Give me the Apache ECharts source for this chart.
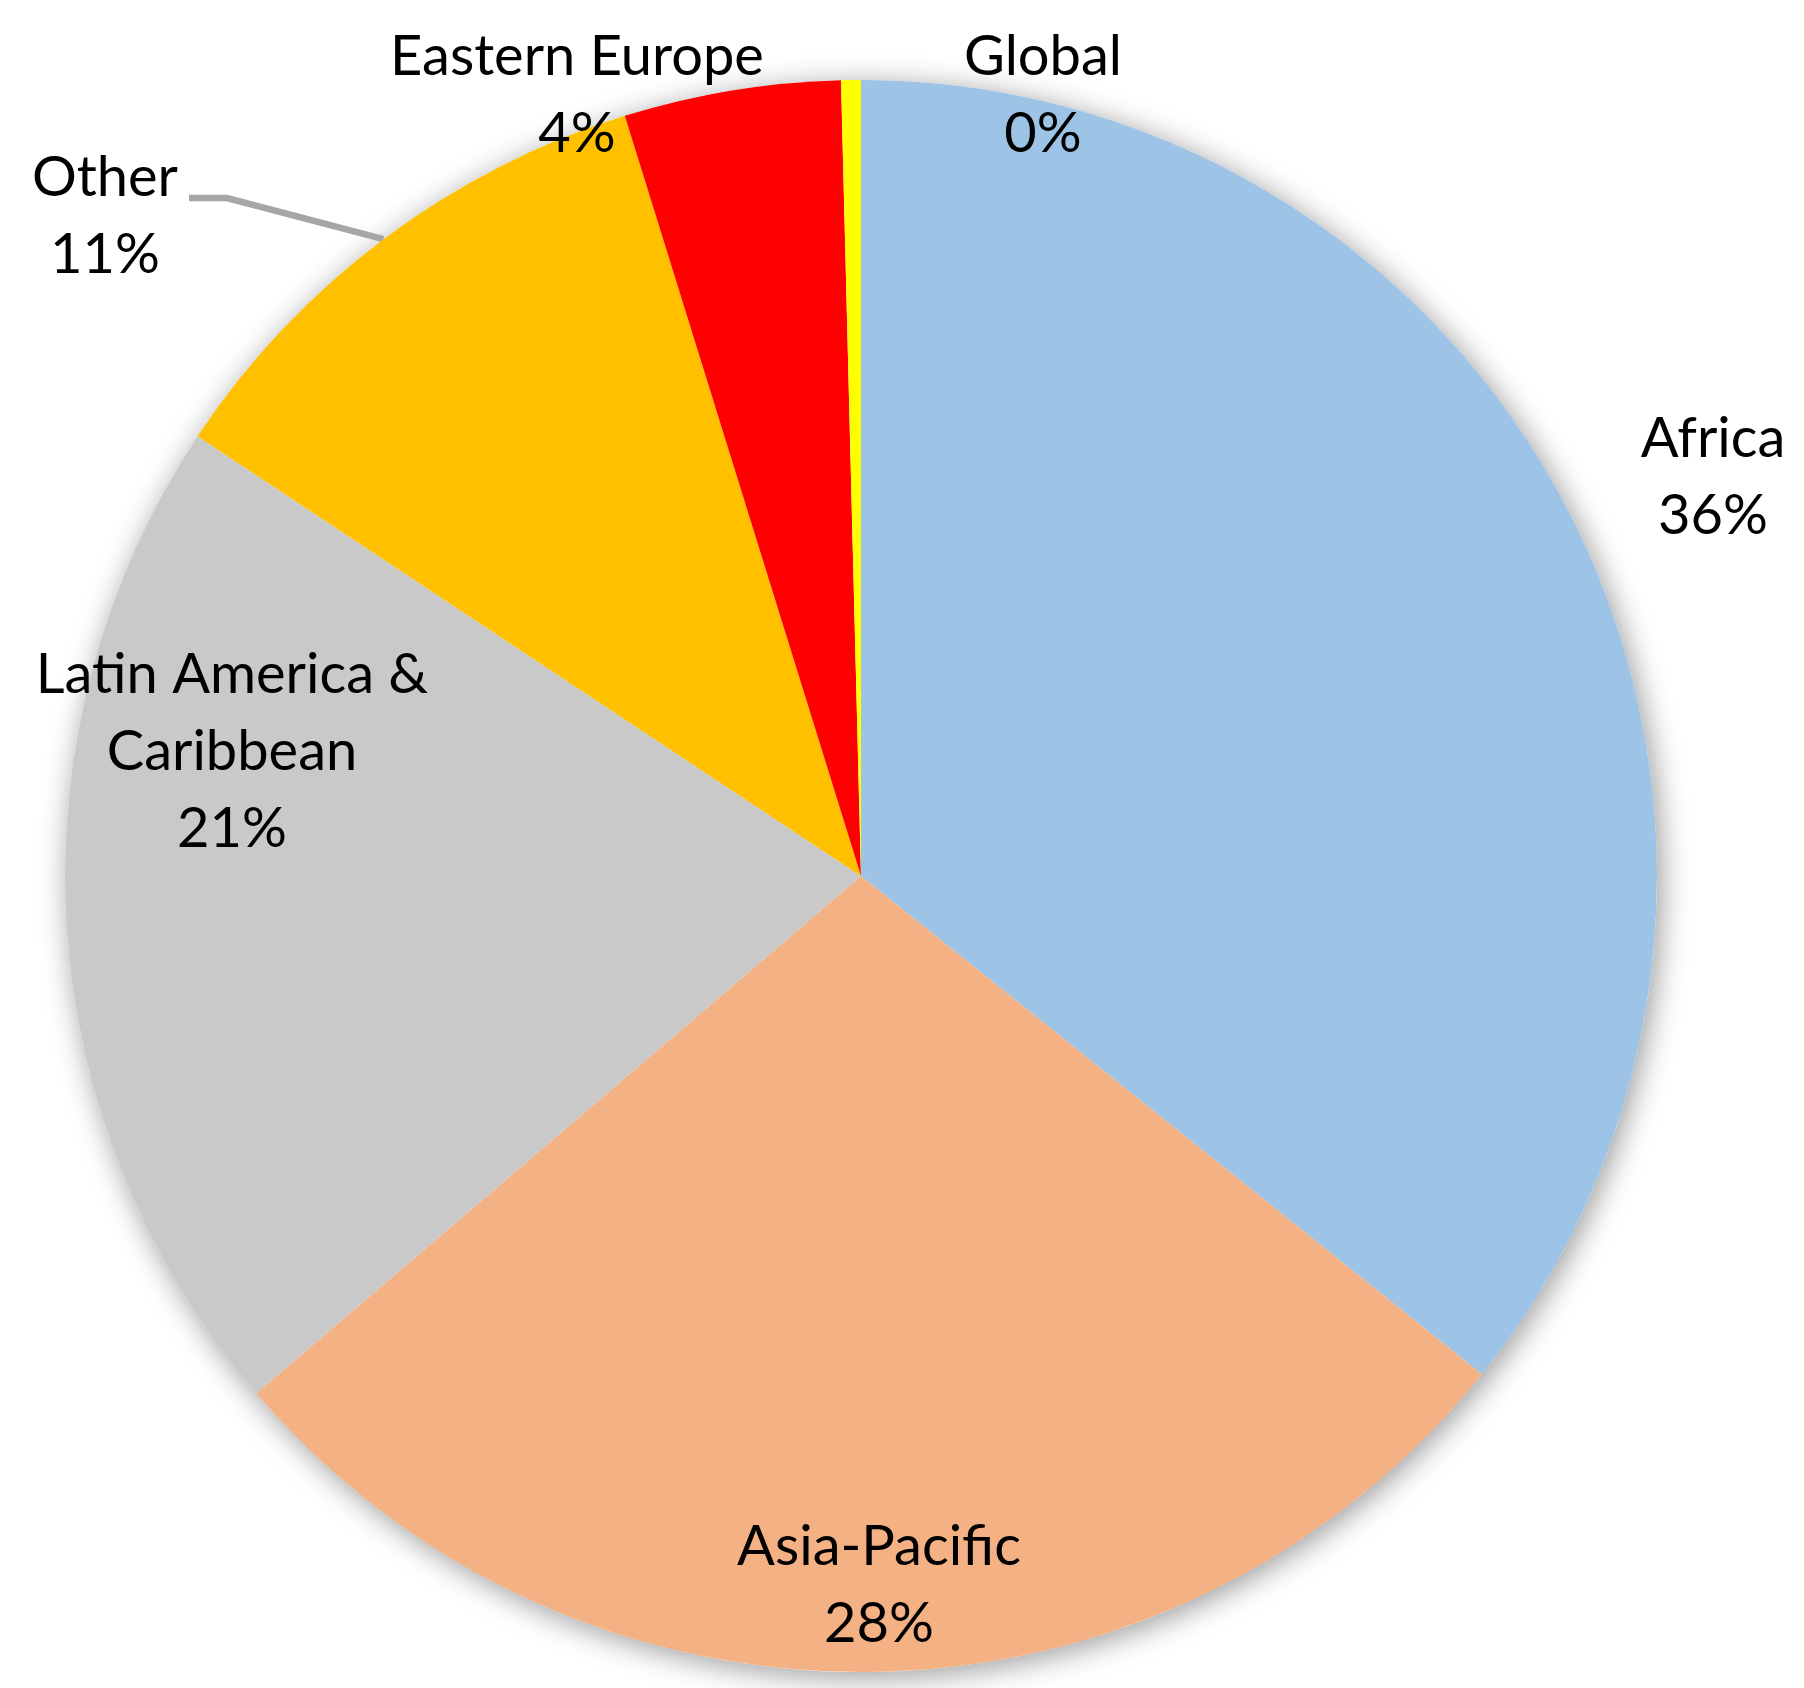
<!DOCTYPE html>
<html lang="en">
<head>
    <meta charset="UTF-8">
    <title>Regions</title>
    <script src="https://cdn.jsdelivr.net/npm/echarts@6/dist/echarts.min.js"></script>
    <style type="text/css">
        *{
            margin: 0;
            padding: 0;
        }
        body{
            background: #fff;
        }
        #pie{
            width: 1804px;
            height: 1688px;
        }
    </style>
</head>
<body>
    <div id="pie"></div>
</body>
<script>
    // data (share of total, per mille)
    var regions = ['Africa', 'Asia-Pacific', 'Latin America & Caribbean', 'Other', 'Eastern Europe', 'Global'];
    var shares = [358, 280, 206, 109, 44, 4];
    var colors = ['#9DC3E6', '#F4B183', '#C9C9C9', '#FFC000', '#FF0000', '#FFFF00'];

    // where each label block sits (centre, px)
    var labelPos = [[1713, 477], [879, 1585], [232, 752], [105, 216], [577, 95], [1043, 95]];

    var total = 0;
    for (var i = 0; i < shares.length; i++) total += shares[i];

    var items = [];
    for (var i = 0; i < regions.length; i++) {
        var item = {
            name: regions[i],
            value: shares[i],
            itemStyle: {color: colors[i]}
        };
        if (regions[i] == 'Other') {
            item.labelLine = {show: true, lineStyle: {color: '#A6A6A6', width: 6.5}};
        }
        items.push(item);
    }

    var myChart = echarts.init(document.getElementById('pie'));
    var option = {
        backgroundColor: '#ffffff',
        animation: false,
        series: [
            {
                // plain disc behind the slices, only to cast the soft shadow
                type: 'pie',
                silent: true,
                center: [861, 876],
                radius: 796,
                label: {show: false},
                labelLine: {show: false},
                itemStyle: {
                    color: '#ffffff',
                    shadowBlur: 30,
                    shadowColor: 'rgba(0,0,0,0.4)',
                    shadowOffsetX: 4,
                    shadowOffsetY: 5
                },
                data: [{value: 1}],
                z: 1
            },
            {
                name: 'regions',
                type: 'pie',
                center: [861, 876],
                radius: 796,
                startAngle: 90,
                clockwise: true,
                avoidLabelOverlap: false,
                z: 2,
                itemStyle: {borderWidth: 0},
                label: {
                    show: true,
                    position: 'outside',
                    overflow: 'none',
                    fontFamily: 'Lato',
                    fontSize: 56,
                    lineHeight: 77,
                    color: '#000000',
                    align: 'center',
                    formatter: function (p) {
                        var pct = Math.round(p.value / total * 100);
                        return p.name.replace('& ', '&\n') + '\n' + pct + '%';
                    }
                },
                labelLine: {
                    show: false,
                    lineStyle: {color: '#A6A6A6', width: 6.5}
                },
                labelLayout: function (params) {
                    var pos = labelPos[params.dataIndex];
                    var res = {
                        x: pos[0],
                        y: pos[1],
                        align: 'center',
                        verticalAlign: 'middle',
                        hideOverlap: false
                    };
                    if (params.labelLinePoints) {
                        var edge = params.labelLinePoints[0];
                        res.labelLinePoints = [
                            edge,
                            [pos[0] + 122, pos[1] - 18],
                            [pos[0] + 84, pos[1] - 18]
                        ];
                    }
                    return res;
                },
                data: items
            }
        ]
    };
    myChart.setOption(option);
</script>
</html>
